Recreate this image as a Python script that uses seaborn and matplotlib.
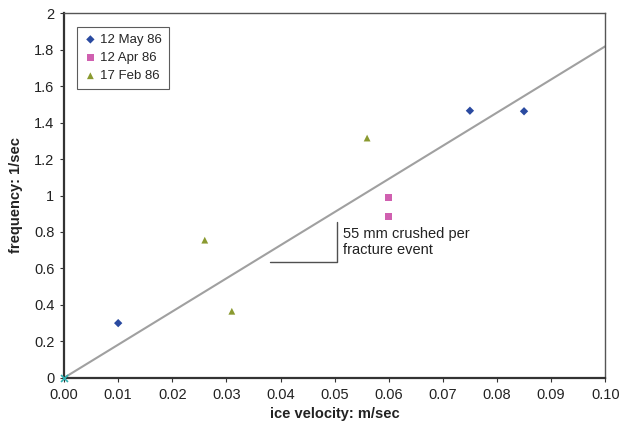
import matplotlib
matplotlib.use("Agg")
import matplotlib.pyplot as plt
import seaborn as sns
import pandas as pd
import numpy as np

sns.set_theme(style="white")
plt.rcParams['font.family'] = ['Liberation Sans', 'DejaVu Sans']

may_x = [0.010, 0.075, 0.085]
may_y = [0.30, 1.465, 1.462]
apr_x = [0.060, 0.060]
apr_y = [0.99, 0.885]
feb_x = [0.026, 0.031, 0.056]
feb_y = [0.755, 0.365, 1.315]
origin_x = [0.0]
origin_y = [0.0]
fit_x = [0.0, 0.10]
fit_y = [0.0, 0.10 / 0.055]

series = ["12 May 86", "12 Apr 86", "17 Feb 86"]

df = pd.DataFrame({
    "x": may_x + apr_x + feb_x,
    "y": may_y + apr_y + feb_y,
    "series": [series[0]] * len(may_x) + [series[1]] * len(apr_x) + [series[2]] * len(feb_x),
})

fig = plt.figure(figsize=(6.22, 4.25), dpi=100)
ax = fig.add_axes([0.103, 0.111, 0.870, 0.858])

sns.lineplot(x=fit_x, y=fit_y, ax=ax, color="#a0a0a0", linewidth=1.5, zorder=1)

palette = {series[0]: "#2a4aa0", series[1]: "#d060b0", series[2]: "#8a9a30"}
markers = {series[0]: "D", series[1]: "s", series[2]: "^"}
sizes = {series[0]: 18, series[1]: 22, series[2]: 24}
for s in series:
    sub = df[df.series == s]
    sns.scatterplot(data=sub, x="x", y="y", ax=ax, color=palette[s], marker=markers[s],
                    s=sizes[s], edgecolor="none", label=s, zorder=3)

ax.scatter(origin_x, origin_y, marker="x", color="#30b0b0", s=25, linewidths=1.2, zorder=4, clip_on=False)

# annotation
ax.plot([0.0381, 0.0505, 0.0505], [0.636, 0.636, 0.855], color="#505050", linewidth=1.0)
ax.text(0.0515, 0.745, "55 mm crushed per\nfracture event", fontsize=10.5, va="center", ha="left",
        linespacing=1.15, color="#222222")

ax.set_xlim(0, 0.10)
ax.set_ylim(0, 2)
ax.set_xticks(np.arange(0, 0.1001, 0.01))
ax.set_xticklabels([f"{v:.2f}" for v in np.arange(0, 0.1001, 0.01)])
ax.set_yticks(np.arange(0, 2.01, 0.2))
ax.set_yticklabels(["0", "0.2", "0.4", "0.6", "0.8", "1", "1.2", "1.4", "1.6", "1.8", "2"])
ax.tick_params(axis="both", direction="out", length=3, width=0.8, colors="#333333",
               labelsize=10.5, labelcolor="#222222", pad=4, bottom=True, left=True)

ax.set_xlabel("ice velocity: m/sec", fontsize=10.5, fontweight="bold", color="#222222", labelpad=4)
ax.set_ylabel("frequency: 1/sec", fontsize=10.5, fontweight="bold", color="#222222", labelpad=8)

for side in ["left", "bottom"]:
    ax.spines[side].set_color("#333333")
    ax.spines[side].set_linewidth(1.6)
for side in ["top", "right"]:
    ax.spines[side].set_color("#555555")
    ax.spines[side].set_linewidth(1.0)

leg = ax.legend(loc="upper left", bbox_to_anchor=(0.023, 0.962), frameon=True, fancybox=False,
                fontsize=9.5, handletextpad=0.2, borderpad=0.5, labelspacing=0.45,
                handlelength=1.1, borderaxespad=0, markerscale=1.0)
leg.get_frame().set_edgecolor("#333333")
leg.get_frame().set_linewidth(0.8)

fig.savefig("out.png", dpi=100)
